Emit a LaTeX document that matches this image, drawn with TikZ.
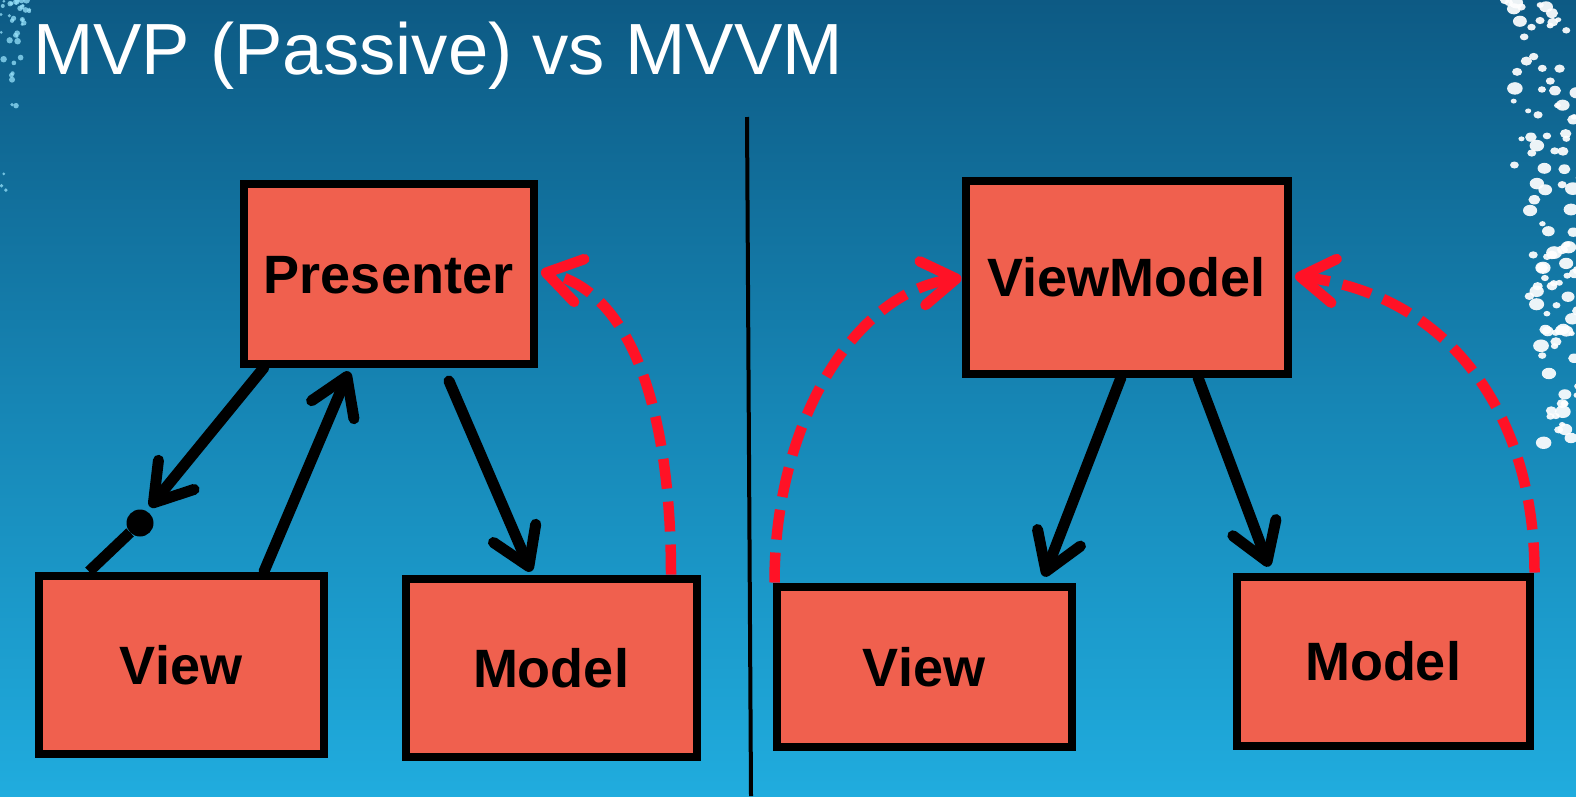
\documentclass[tikz,border=0pt]{standalone}
\usepackage{fontspec}
\setmainfont{Liberation Sans}
\usetikzlibrary{arrows.meta,calc,shapes.geometric}
\definecolor{bgtop}{RGB}{13,90,132}
\definecolor{bgmid}{RGB}{22,133,180}
\definecolor{bgbot}{RGB}{32,172,222}
\definecolor{salmon}{RGB}{240,96,78}
\definecolor{dashred}{RGB}{255,18,38}
\definecolor{dotcyan}{RGB}{150,225,250}
\begin{document}
\begin{tikzpicture}[x=1pt,y=-1pt,
  box/.style={draw=black, line width=8pt, fill=salmon, inner sep=0pt,
    font=\bfseries\fontsize{54}{60}\selectfont, text height=39pt, text depth=0pt},
  blk/.style={draw=black, line width=11pt, line cap=round,
    -{Straight Barb[length=36pt,width=46pt,round]}},
  blkline/.style={draw=black, line width=11pt},
  reddash/.style={draw=dashred, line width=10.5pt, dash pattern=on 30pt off 13pt,
    -{Straight Barb[length=34pt,width=44pt,round]}},
  bigdot/.style={circle, fill=black, minimum size=27pt, inner sep=0pt}
]
\useasboundingbox (0,0) rectangle (1576,796);
\shade[top color=bgtop, bottom color=bgbot, middle color=bgmid] (0,0) rectangle (1576,796);

% decorative dots, right edge
\pgfmathsetseed{11}
\foreach \i in {1,...,110}{
  \pgfmathsetmacro\yy{rnd*450}
  \pgfmathsetmacro\rg{86-0.11*\yy}
  \pgfmathsetmacro\xx{1580-\rg*rnd}
  \pgfmathsetmacro\rr{3+5*rnd}
  \fill[white, opacity=0.92] (\xx,\yy) ellipse [x radius=\rr, y radius=0.8*\rr];
}
% decorative dots, left edge
\foreach \i in {1,...,40}{
  \pgfmathsetmacro\yy{210*rnd*rnd}
  \pgfmathsetmacro\xx{1+30*rnd*(1-\yy/230)}
  \pgfmathsetmacro\rr{1.5+1.8*rnd}
  \fill[dotcyan, opacity=0.75] (\xx,\yy) circle [radius=\rr];
}

% title
\node[anchor=base west, text=white, inner sep=0pt,
  font=\fontsize{72.5}{80}\selectfont] (title) at (33,74) {MVP (Passive) vs MVVM};

% divider
\coordinate (dtop) at (747,117);
\coordinate (dbot) at (751,796);
\draw[line width=4pt] (dtop) -- (dbot);

% boxes
\node[box, minimum width=290pt, minimum height=180pt] (P)  at (388.5,273.5) {Presenter};
\node[box, minimum width=285pt, minimum height=178pt] (VL) at (181,664.5) {View};
\node[box, minimum width=291pt, minimum height=178pt] (ML) at (551,667.5) {Model};
\node[box, minimum width=322pt, minimum height=193pt] (VM) at (1126.5,277) {ViewModel};
\node[box, minimum width=295pt, minimum height=160pt] (VR) at (924,666.5) {View};
\node[box, minimum width=293pt, minimum height=169pt] (MR) at (1383,661) {Model};

% MVP connectors
\node[bigdot] (d1) at (140,523) {};
\coordinate (a1tip) at (150,507);
\draw[blk] ([xshift=24.5pt]P.south west) -- (a1tip);
\draw[blkline] (d1) -- ([xshift=54.5pt]VL.north west);
\draw[blk] ([xshift=229.5pt]VL.north west) -- ([xshift=109.5pt,yshift=-4pt]P.south west);
\draw[blk] ([xshift=209.5pt,yshift=-13.5pt]P.south west) -- ([xshift=129.5pt,yshift=3pt]ML.north west);
\draw[reddash] ([xshift=269.5pt]ML.north west) .. controls +(0,-158) and +(93,22) .. ([xshift=3.5pt,yshift=2pt]P.east);

% MVVM connectors
\draw[blk] ([xshift=159.5pt]VM.south west) -- ([xshift=271.5pt,yshift=6pt]VR.north west);
\draw[blk] ([xshift=236.5pt]VM.south west) -- ([xshift=36.5pt,yshift=6pt]MR.north west);
\draw[reddash] ([xshift=2pt]VR.north west) .. controls +(0,-163) and +(-105,14) .. ([xshift=0pt,yshift=-1pt]VM.west);
\draw[reddash] ([xshift=1pt]MR.north east) .. controls +(0,-153) and +(159,20) .. ([xshift=3.5pt,yshift=1pt]VM.east);
\end{tikzpicture}
\end{document}
